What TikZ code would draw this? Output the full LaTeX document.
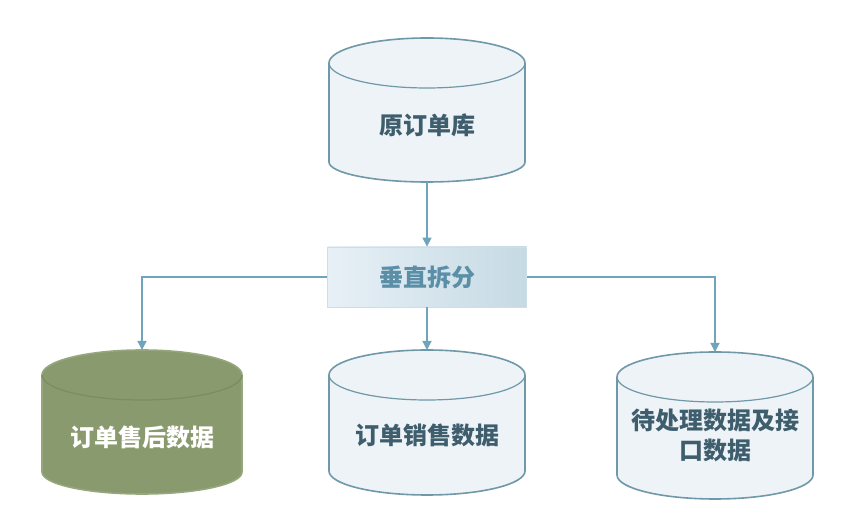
\documentclass[tikz,border=0pt]{standalone}
\usepackage{fontspec}
\newfontfamily\cjk{Noto Sans CJK SC}
\usetikzlibrary{arrows.meta}
\definecolor{cylfill}{HTML}{EEF3F7}
\definecolor{cylline}{HTML}{6F98A9}
\definecolor{cyltext}{HTML}{3F5E6D}
\definecolor{grnfill}{HTML}{8A9A6F}
\definecolor{grnline}{HTML}{97A77D}
\definecolor{grnedge}{HTML}{7C8C62}
\definecolor{conn}{HTML}{6FA4BC}
\definecolor{boxl}{HTML}{E7F0F6}
\definecolor{boxr}{HTML}{C6DAE4}
\definecolor{boxline}{HTML}{CCDEE8}
\definecolor{boxtext}{HTML}{5B8EA7}
% \cylshape{cx}{yc top}{yc bottom}{rx}{ry top}{ry bottom}{fill}{line}{inner}
\newcommand\cylshape[9]{%
  \filldraw[fill=#7,draw=#8,line width=1.6pt]
    (#1-#4,#2) -- (#1-#4,#3)
    arc[start angle=180,end angle=360,x radius=#4,y radius=#6]
    -- (#1+#4,#2)
    arc[start angle=0,end angle=180,x radius=#4,y radius=#5] -- cycle;
  \draw[draw=#9,line width=1.2pt] (#1-#4,#2)
    arc[start angle=180,end angle=360,x radius=#4,y radius=#5];
}
\tikzset{
  lbl/.style={font=\cjk\bfseries\fontsize{24}{30}\selectfont,align=center,text=cyltext},
  conn/.style={draw=conn,line width=1.3pt,-{Triangle[width=9pt,length=9pt]}},
  splitbox/.style={minimum width=199pt,minimum height=60pt,left color=boxl,right color=boxr,
    draw=boxline,line width=0.8pt,font=\cjk\bfseries\fontsize{24}{30}\selectfont,text=boxtext}
}
\begin{document}
\begin{tikzpicture}[x=1pt,y=1pt]
\useasboundingbox[fill=white] (0,0) rectangle (856,521);
% cylinders
\cylshape{427}{458}{359}{98}{25}{20}{cylfill}{cylline}{cylline}
\cylshape{142}{146}{49}{100}{25}{22}{grnfill}{grnline}{grnedge}
\cylshape{427}{146}{50}{98}{25}{24}{cylfill}{cylline}{cylline}
\cylshape{715}{144}{46}{98}{25}{24}{cylfill}{cylline}{cylline}
% cylinder anchors
\coordinate (srcb) at (427,339);
\coordinate (lt) at (142,171);
\coordinate (mt) at (427,171);
\coordinate (rt) at (715,169);
% labels
\node[lbl] (src) at (427,396) {原订单库};
\node[lbl,text=white] (after) at (142,84) {订单售后数据};
\node[lbl] (sales) at (427,86) {订单销售数据};
\node[lbl] (pend) at (715,86) {待处理数据及接\\口数据};
% split box
\node[splitbox] (split) at (427,244) {垂直拆分};
% connectors
\draw[conn] (srcb) -- (split.north);
\draw[conn] (split.south) -- (mt);
\draw[conn] (split.west) -| (lt);
\draw[conn] (split.east) -| (rt);
\end{tikzpicture}
\end{document}
